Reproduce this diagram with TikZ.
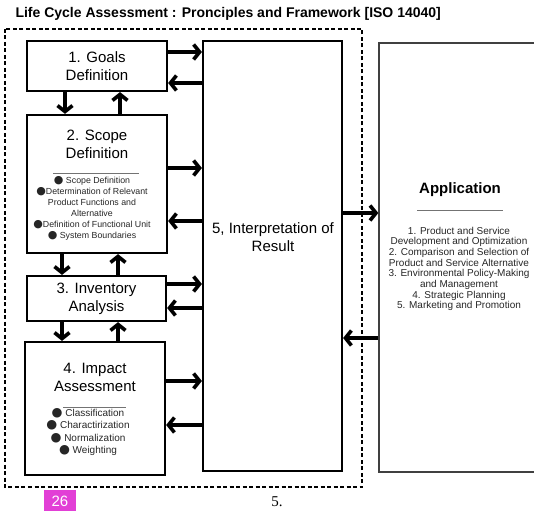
\documentclass[tikz,border=0pt]{standalone}
\usepackage{fontspec}
\setmainfont{Liberation Sans}
\newfontfamily\serifpg{Liberation Serif}
\newfontfamily\dotfont{DejaVu Sans}
\usetikzlibrary{arrows.meta, positioning}
\usepackage{xcolor}
\usepackage{graphicx}
\definecolor{badge}{HTML}{E23FD6}
\newcommand{\bdot}{{\dotfont\scalebox{1.25}{\char"25CF}}}

\begin{document}
\begin{tikzpicture}[x=1pt, y=-1pt, >=Straight Barb,
    box/.style={draw, line width=2.2pt, inner sep=0pt},
    flow/.style={line width=3.6pt, -{Straight Barb[length=6pt, width=15pt]}},
    heading/.style={font=\fontsize{15}{18}\selectfont, align=center},
    rulegray/.style={black!55, line width=0.8pt}]
    \useasboundingbox (0,0) rectangle (534,510);

    % title and outer frame
    \node[anchor=west, font=\bfseries\fontsize{14}{16}\selectfont] (title) at (12,14) {Life Cycle Assessment : Pronciples and Framework [ISO 14040]};
    \draw[line width=2pt, dash pattern=on 4pt off 2.5pt] (5,29) rectangle (362,487);

    % boxes
    \node[box, minimum width=140, minimum height=50, heading] (goals) at (97,66) {1. Goals\\Definition};
    \node[box, minimum width=140, minimum height=138] (scope) at (97,184) {};
    \node[box, minimum width=139, minimum height=45, heading] (inventory) at (96.5,298.5) {3. Inventory\\Analysis};
    \node[box, minimum width=140, minimum height=133] (impact) at (95,408.5) {};
    \node[box, minimum width=139, minimum height=430] (interp) at (272.5,256) {};
    \node[draw=black!75, line width=1.4pt, minimum width=161, minimum height=429] (application) at (459.5,257.5) {};

    % scope definition
    \node[heading] (scopehead) at (97,144) {2. Scope\\Definition};
    \draw[rulegray] (53,173) -- (139,173);
    \node[align=center, font=\fontsize{8.8}{11}\selectfont, text=black!85] (scopeitems) at (92,208.5) {\bdot\ Scope Definition\\
        \bdot Determination of Relevant\\
        Product Functions and\\
        Alternative\\
        \bdot Definition of Functional Unit\\
        \bdot\ System Boundaries};

    % impact assessment
    \node[heading] (impacthead) at (95,377.5) {4. Impact\\Assessment};
    \draw[rulegray] (63,407) -- (126,407);
    \node[align=center, font=\fontsize{10}{12.5}\selectfont, text=black!85] (impactitems) at (88,432) {\bdot\ Classification\\
        \bdot\ Charactirization\\
        \bdot\ Normalization\\
        \bdot\ Weighting};

    % interpretation
    \node[heading] (interphead) at (273,237.5) {5, Interpretation of\\Result};

    % application
    \node[font=\bfseries\fontsize{15}{18}\selectfont] (apphead) at (460,190) {Application};
    \draw[rulegray] (417,210) -- (503,210);
    \node[align=center, font=\fontsize{10}{10.65}\selectfont, text=black!85] (appitems) at (459,269) {1. Product and Service\\
        Development and Optimization\\
        2. Comparison and Selection of\\
        Product and Service Alternative\\
        3. Environmental Policy-Making\\
        and Management\\
        4. Strategic Planning\\
        5. Marketing and Promotion};

    % arrows to and from the interpretation
    \draw[flow] (goals.east |- 0,52) -- (interp.west |- 0,52);
    \draw[flow] (interp.west |- 0,83) -- (goals.east |- 0,83);
    \draw[flow] (scope.east |- 0,168) -- (interp.west |- 0,168);
    \draw[flow] (interp.west |- 0,221) -- (scope.east |- 0,221);
    \draw[flow] (inventory.east |- 0,284) -- (interp.west |- 0,284);
    \draw[flow] (interp.west |- 0,308) -- (inventory.east |- 0,308);
    \draw[flow] (impact.east |- 0,381) -- (interp.west |- 0,381);
    \draw[flow] (interp.west |- 0,425) -- (impact.east |- 0,425);
    \draw[flow] (interp.east |- 0,213) -- (application.west |- 0,213);
    \draw[flow] (application.west |- 0,338) -- (interp.east |- 0,338);

    % arrows between the phases
    \draw[flow] (goals.south -| 65,0) -- (scope.north -| 65,0);
    \draw[flow] (scope.north -| 120,0) -- (goals.south -| 120,0);
    \draw[flow] (scope.south -| 62,0) -- (inventory.north -| 62,0);
    \draw[flow] (inventory.north -| 118,0) -- (scope.south -| 118,0);
    \draw[flow] (inventory.south -| 62,0) -- (impact.north -| 62,0);
    \draw[flow] (impact.north -| 118,0) -- (inventory.south -| 118,0);

    % page marks
    \node[fill=badge, text=white, minimum width=32, minimum height=22, inner sep=0pt, font=\fontsize{15}{17}\selectfont] (badge) at (60,501) {26};
    \node[font=\serifpg\fontsize{15}{17}\selectfont] (pagenum) at (277,502) {5.};
\end{tikzpicture}
\end{document}
